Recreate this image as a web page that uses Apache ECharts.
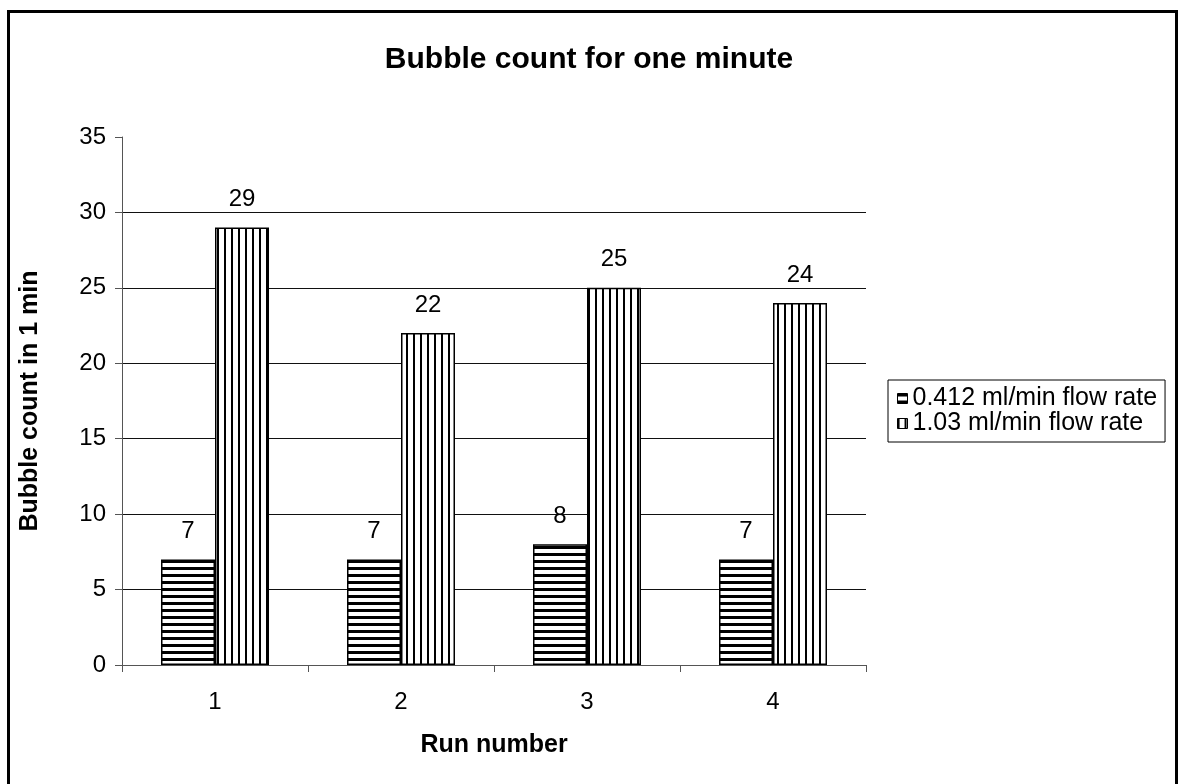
<!DOCTYPE html>
<html>
<head>
<meta charset="utf-8">
<script src="https://cdn.jsdelivr.net/npm/echarts@6/dist/echarts.min.js"></script>
<style>
  html, body { margin: 0; padding: 0; background: #fff; }
  #chart { width: 1178px; height: 784px; }
</style>
</head>
<body>
<div id="chart"></div>
<script>
// Run numbers along the x axis
const runs = ['1', '2', '3', '4'];
// Bubble counts per minute for each flow rate
const slowFlow = [7, 7, 8, 7];
const fastFlow = [29, 22, 25, 24];
const seriesNames = ['0.412 ml/min flow rate', '1.03 ml/min flow rate'];

const FONT = 'Arial, "Liberation Sans", sans-serif';

// Striped fills: horizontal stripes for the slow run, vertical for the fast run
function stripes(horizontal, period, ink) {
  const c = document.createElement('canvas');
  c.width = horizontal ? 8 : period;
  c.height = horizontal ? period : 8;
  const g = c.getContext('2d');
  g.fillStyle = '#fff';
  g.fillRect(0, 0, c.width, c.height);
  g.fillStyle = '#000';
  if (horizontal) g.fillRect(0, 0, c.width, ink);
  else g.fillRect(0, 0, ink, c.height);
  return { image: c, repeat: 'repeat' };
}

const chart = echarts.init(document.getElementById('chart'));
chart.setOption({
  backgroundColor: '#fff',
  animation: false,
  title: {
    text: 'Bubble count for one minute',
    left: 'center',
    top: 40,
    textStyle: { fontFamily: FONT, fontSize: 30, fontWeight: 'bold', color: '#000' }
  },
  legend: {
    orient: 'vertical',
    left: 888,
    top: 380,
    padding: [6, 8, 6, 9],
    itemGap: 0,
    itemWidth: 10,
    itemHeight: 10,
    icon: 'rect',
    borderColor: '#000',
    borderWidth: 1,
    itemStyle: { borderColor: '#000', borderWidth: 1 },
    textStyle: { fontFamily: FONT, fontSize: 25, color: '#000' },
    data: seriesNames
  },
  grid: { left: 122, right: 312, top: 137, bottom: 119, containLabel: false },
  xAxis: {
    type: 'category',
    data: runs,
    name: 'Run number',
    nameLocation: 'middle',
    nameGap: 68,
    nameTextStyle: { fontFamily: FONT, fontSize: 25, fontWeight: 'bold', color: '#000' },
    axisLine: { lineStyle: { color: '#555', width: 1 } },
    axisTick: { show: true, inside: false, length: 7, lineStyle: { color: '#555' } },
    axisLabel: { fontFamily: FONT, fontSize: 24, color: '#000', margin: 25 }
  },
  yAxis: {
    type: 'value',
    min: 0,
    max: 35,
    interval: 5,
    name: 'Bubble count in 1 min',
    nameLocation: 'middle',
    nameRotate: 90,
    nameGap: 79,
    nameTextStyle: { fontFamily: FONT, fontSize: 25, fontWeight: 'bold', color: '#000' },
    axisLine: { show: true, lineStyle: { color: '#555', width: 1 } },
    axisTick: { show: true, inside: false, length: 7, lineStyle: { color: '#555' } },
    axisLabel: { fontFamily: FONT, fontSize: 24, color: '#000', margin: 16 },
    splitLine: { show: true, showMaxLine: false, lineStyle: { color: '#111', width: 1 } }
  },
  series: [
    {
      name: seriesNames[0],
      type: 'bar',
      data: slowFlow,
      barWidth: 54,
      barGap: '0%',
      itemStyle: { color: stripes(true, 7, 3), borderColor: '#000', borderWidth: 1.5 },
      label: { show: true, position: 'top', distance: 16, fontFamily: FONT, fontSize: 24, color: '#000' }
    },
    {
      name: seriesNames[1],
      type: 'bar',
      data: fastFlow,
      barWidth: 54,
      barGap: '0%',
      itemStyle: { color: stripes(false, 7, 2), borderColor: '#000', borderWidth: 1.5 },
      label: { show: true, position: 'top', distance: 16, fontFamily: FONT, fontSize: 24, color: '#000' }
    }
  ],
  graphic: [
    {
      type: 'rect',
      silent: true,
      shape: { x: 8.5, y: 11.5, width: 1168, height: 800 },
      style: { fill: 'none', stroke: '#000', lineWidth: 3 }
    }
  ]
});
</script>
</body>
</html>
